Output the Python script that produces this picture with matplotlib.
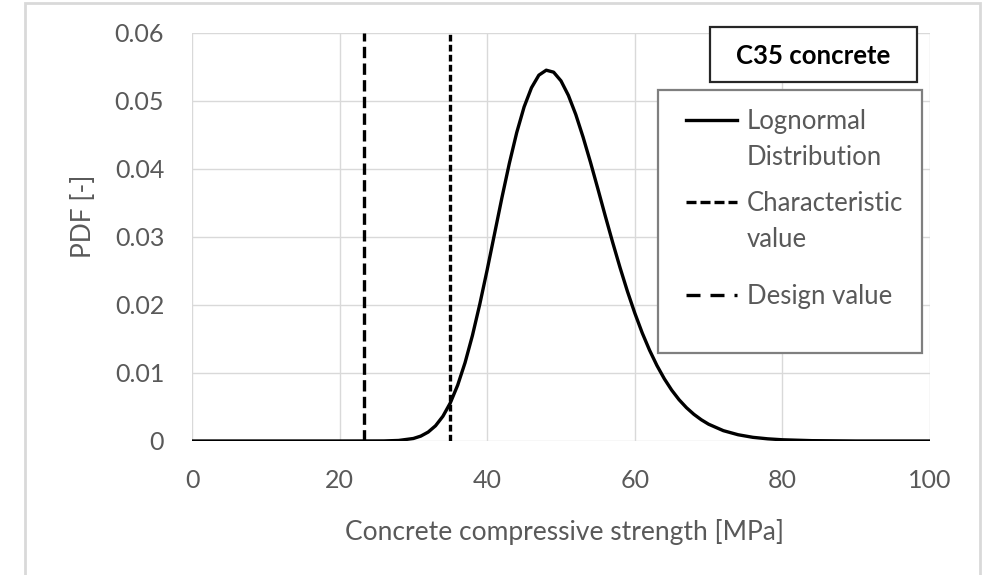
import matplotlib
matplotlib.use("Agg")
import matplotlib.pyplot as plt
from matplotlib.patches import Rectangle
from matplotlib.lines import Line2D

plt.rcParams['font.family'] = ['Lato', 'DejaVu Sans']

# strength [MPa] and pdf values
strength = [0, 20, 26, 28, 30, 31, 32, 33, 34, 35, 36, 37, 38, 39, 40, 41, 42, 43, 44, 45,
            46, 47, 48, 49, 50, 51, 52, 53, 54, 55, 56, 57, 58, 59, 60, 61, 62, 63, 64,
            65, 66, 67, 68, 69, 70, 72, 74, 76, 78, 80, 84, 90, 100]
pdf = [0, 0, 0.00001, 0.00008, 0.00037, 0.00072, 0.00131, 0.00224, 0.00364, 0.0056,
       0.00821, 0.01152, 0.01552, 0.02014, 0.02519, 0.0305, 0.03581, 0.04083, 0.04536,
       0.04913, 0.05195, 0.0538, 0.05453, 0.05424, 0.05296, 0.05083, 0.04802, 0.04466,
       0.04097, 0.03707, 0.03309, 0.02921, 0.0255, 0.02201, 0.01881, 0.01591, 0.01335,
       0.0111, 0.00915, 0.00748, 0.00607, 0.0049, 0.00393, 0.00313, 0.00247, 0.00152,
       0.00092, 0.00054, 0.00032, 0.00018, 0.00005, 0, 0]

char_value = 35.0
design_value = 23.33

x_ticks = [0, 20, 40, 60, 80, 100]
y_ticks = [0, 0.01, 0.02, 0.03, 0.04, 0.05, 0.06]
y_labels = ['0', '0.01', '0.02', '0.03', '0.04', '0.05', '0.06']

grey = '#595959'
lw = 2.4
char_dash = (2.0, 1.0)
design_dash = (3.4, 1.6)

fig = plt.figure(figsize=(9.89, 5.75), dpi=100)
ax = fig.add_axes([192/989, 134/575, 738/989, 408/575])

ax.plot(strength, pdf, color='black', linewidth=lw, zorder=3)
ax.axvline(char_value, color='black', linewidth=lw, dashes=char_dash, zorder=3)
ax.axvline(design_value, color='black', linewidth=lw, dashes=design_dash, zorder=3)

ax.set_xlim(0, 100)
ax.set_ylim(0, 0.06)
ax.set_xticks(x_ticks)
ax.set_yticks(y_ticks)
ax.set_yticklabels(y_labels)
ax.grid(True, color='#d9d9d9', linewidth=1)
ax.set_axisbelow(True)
for s in ax.spines.values():
    s.set_visible(False)
ax.tick_params(length=0, labelsize=18, colors=grey)
ax.tick_params(axis='x', pad=20)
ax.tick_params(axis='y', pad=20)

ax.set_xlabel('Concrete compressive strength [MPa]', fontsize=19, color=grey)
ax.xaxis.set_label_coords(0.505, -0.19)
ax.set_ylabel('PDF [-]', fontsize=19, color=grey)
ax.yaxis.set_label_coords(-0.13, 0.55)

# title box
ax.add_patch(Rectangle((0.702, 0.880), 0.280, 0.135, transform=ax.transAxes,
                       facecolor='white', edgecolor='#262626', linewidth=1.6,
                       clip_on=False, zorder=5))
ax.text(0.842, 0.943, 'C35 concrete', transform=ax.transAxes, ha='center', va='center',
        fontsize=18.5, fontweight='bold', color='black', zorder=6)

# legend box, handles sit next to the first line of each label
ax.add_patch(Rectangle((0.631, 0.216), 0.358, 0.644, transform=ax.transAxes,
                       facecolor='white', edgecolor='#7f7f7f', linewidth=1.6, zorder=5))
entries = [('Lognormal\nDistribution', 0.787, None),
           ('Characteristic\nvalue', 0.586, (3.0, 1.2)),
           ('Design value', 0.358, (4.2, 3.0))]
for label, yy, dash in entries:
    ln = Line2D([0.669, 0.7385], [yy, yy], transform=ax.transAxes, color='black',
                linewidth=lw, zorder=6)
    if dash:
        ln.set_dashes(dash)
    ax.add_line(ln)
    ax.text(0.752, yy + 0.027, label, transform=ax.transAxes, ha='left', va='top',
            fontsize=18.5, color=grey, linespacing=1.55, zorder=6)

# outer chart border
fig.patches.append(Rectangle((25/989, -0.05), 955/989, 1.05 - 3/575,
                             transform=fig.transFigure, fill=False,
                             edgecolor='#d9d9d9', linewidth=2))

fig.savefig('out.png', dpi=100)
